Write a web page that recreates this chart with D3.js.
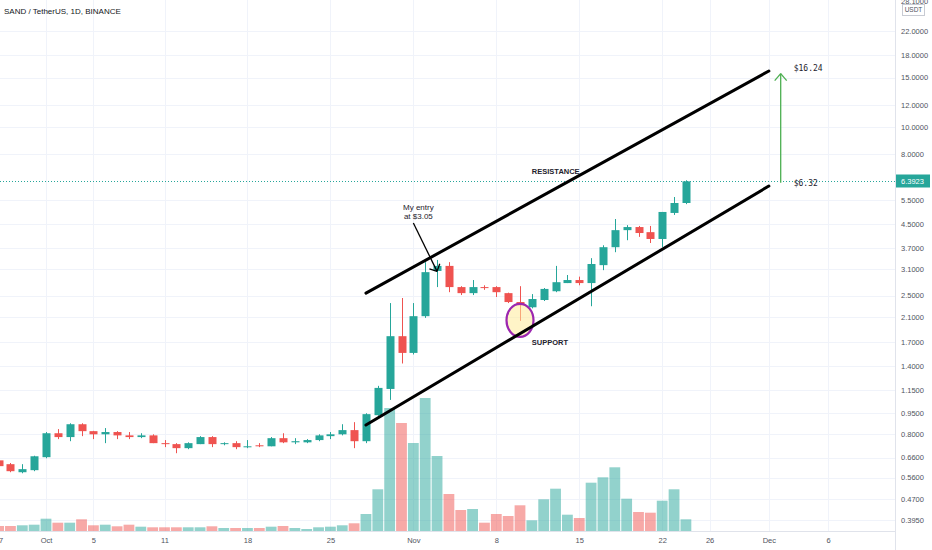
<!DOCTYPE html>
<html>
<head>
<meta charset="utf-8">
<script src="https://cdn.jsdelivr.net/npm/d3@7"></script>
<style>
html, body { margin: 0; padding: 0; background: #ffffff; overflow: hidden; }
</style>
</head>
<body>
<div id="canvas"></div>
<script>
"use strict"

let drawingWidth = 932; // size of the screenshot
let drawingHeight = 550;
let plotRight = 895;    // price scale starts here
let axisY = 531;        // time scale line / volume baseline

/* Daily candles, SAND / USDT, 27 Sep .. 24 Nov 2021 */
let firstDay = "2021-09-27";
let lastDay = "2021-11-24";

let opens = [0.645, 0.625, 0.585, 0.595,
    0.662, 0.806, 0.781, 0.868, 0.820, 0.799, 0.814, 0.792, 0.781, 0.792, 0.743, 0.737, 0.713, 0.737, 0.781, 0.737,
    0.743, 0.719, 0.730, 0.724, 0.774, 0.748, 0.748, 0.762, 0.787, 0.799, 0.827, 0.755, 0.935, 1.16, 1.79,
    1.56, 2.11, 3.06, 3.19, 2.68, 2.55, 2.68, 2.68, 2.55, 2.37, 2.27, 2.41, 2.59, 2.77, 2.84, 2.77, 3.21, 3.72,
    4.28, 4.39, 4.21, 3.98, 4.93, 5.35];

let highs = [0.660, 0.631, 0.625, 0.670,
    0.814, 0.834, 0.875, 0.875, 0.822, 0.841, 0.820, 0.814, 0.806, 0.799, 0.762, 0.743, 0.748, 0.787, 0.787, 0.748,
    0.755, 0.762, 0.743, 0.781, 0.806, 0.774, 0.768, 0.799, 0.814, 0.868, 0.883, 0.950, 1.19, 2.35, 2.45,
    2.35, 3.29, 3.35, 3.29, 2.70, 2.84, 2.72, 2.70, 2.56, 2.70, 2.53, 2.66, 3.19, 2.96, 2.92, 3.40, 3.78, 4.69,
    4.46, 4.43, 4.43, 4.97, 5.62, 6.45];

let lows = [0.600, 0.585, 0.580, 0.590,
    0.656, 0.768, 0.755, 0.787, 0.768, 0.743, 0.768, 0.768, 0.774, 0.743, 0.719, 0.684, 0.707, 0.737, 0.719, 0.730,
    0.707, 0.713, 0.719, 0.724, 0.743, 0.737, 0.743, 0.755, 0.768, 0.792, 0.713, 0.743, 0.930, 1.06, 1.43,
    1.54, 2.08, 2.68, 2.57, 2.51, 2.51, 2.62, 2.47, 2.35, 2.03, 2.25, 2.39, 2.57, 2.77, 2.72, 2.29, 3.08, 3.57,
    3.94, 4.05, 3.85, 3.72, 4.85, 5.30];

let closes = [0.615, 0.590, 0.600, 0.667,
    0.806, 0.781, 0.868, 0.820, 0.799, 0.814, 0.792, 0.781, 0.792, 0.743, 0.737, 0.713, 0.743, 0.781, 0.737, 0.743,
    0.719, 0.724, 0.724, 0.774, 0.748, 0.755, 0.762, 0.792, 0.799, 0.827, 0.755, 0.943, 1.17, 1.79, 1.56,
    2.11, 3.03, 3.19, 2.68, 2.55, 2.68, 2.66, 2.57, 2.37, 2.31, 2.43, 2.64, 2.79, 2.84, 2.77, 3.24, 3.72, 4.28,
    4.39, 4.18, 3.98, 4.97, 5.35, 6.3923];

// volume in millions of SAND
let volumes = [5.0, 5.0, 5.7, 6.3,
    12.3, 8.3, 8.3, 11.7, 5.7, 6.3, 4.7, 6.3, 4.3, 3.7, 3.7, 3.7, 3.7, 3.7, 4.7, 3.0,
    3.0, 3.0, 3.0, 4.3, 5.0, 3.0, 2.0, 3.7, 4.3, 5.7, 7.7, 17.0, 41.7, 123.0, 108.0,
    88.0, 133.0, 75.0, 37.0, 21.0, 22.0, 8.3, 17.0, 15.0, 25.7, 10.7, 31.7, 42.3, 16.3, 13.0, 48.3, 53.7, 63.7,
    32.3, 19.0, 18.3, 30.3, 41.7, 11.7];

let priceTicks = [28.1, 22, 18, 15, 12, 10, 8, 5.5, 4.5, 3.7, 3.1, 2.5, 2.1, 1.7, 1.4, 1.15, 0.95, 0.8, 0.66, 0.56, 0.47, 0.395];
let timeTicks = ["2021-09-27", "2021-10-01", "2021-10-05", "2021-10-11", "2021-10-18", "2021-10-25", "2021-11-01",
    "2021-11-08", "2021-11-15", "2021-11-22", "2021-11-26", "2021-12-01", "2021-12-06"];
let timeTickLabels = ["27", "Oct", "5", "11", "18", "25", "Nov", "8", "15", "22", "26", "Dec", "6"];

let lastPrice = 6.3923;

/* Drawn annotations (date, price) */
let resistanceLine = [{ date: "2021-10-28", price: 2.55 }, { date: "2021-12-01", price: 15.83 }];
let supportLine = [{ date: "2021-10-28", price: 0.862 }, { date: "2021-12-01", price: 6.15 }];
let entryArrow = [{ date: "2021-11-01", price: 4.54 }, { date: "2021-11-03", price: 3.05 }];
let entryText = ["My entry", "at $3.05"];
let supportCircle = { date: "2021-11-10", price: 2.04 };
let targetArrow = { date: "2021-12-02", from: 6.32, to: 15.5 };
let targetLabels = [{ text: "$16.24", price: 16.24 }, { text: "$6.32", price: 6.32 }];
let channelLabels = [{ text: "RESISTANCE", date: "2021-11-11", price: 6.96 }, { text: "SUPPORT", date: "2021-11-11", price: 1.70 }];

let upColor = "#26a69a";
let downColor = "#ef5350";
let gridColor = "#f0f3fa";
let textColor = "#131722";
let fontFamily = "'Liberation Sans', Arial, sans-serif";

let parseDay = d3.utcParse("%Y-%m-%d");

let days = d3.utcDay.range(parseDay(firstDay), d3.utcDay.offset(parseDay(lastDay), 1));
let candles = days.map((d, i) => ({
    date: d, open: opens[i], high: highs[i], low: lows[i], close: closes[i], volume: volumes[i]
}));

/* Scales */
let xScale = d3.scaleUtc()
    .domain([parseDay("2021-10-01"), parseDay("2021-12-01")])
    .range([46, 768.85]);

let yScale = d3.scaleLog()
    .domain([0.395, 22])
    .range([520, 31]);

let volumeScale = d3.scaleLinear()
    .domain([0, 200])
    .range([axisY, axisY - 200]);

let drawing = d3.select("#canvas")
    .append("svg")
    .attr("width", drawingWidth)
    .attr("height", drawingHeight)
    .style("font-family", fontFamily);

drawing.append("rect")
    .attr("width", drawingWidth)
    .attr("height", drawingHeight)
    .attr("fill", "#ffffff");

/* Grid */
let grid = drawing.append("g");

grid.selectAll(".hgrid")
    .data(priceTicks.slice(1))
    .join("line")
    .attr("x1", 0)
    .attr("x2", plotRight)
    .attr("y1", d => Math.round(yScale(d)) + 0.5)
    .attr("y2", d => Math.round(yScale(d)) + 0.5)
    .attr("stroke", gridColor);

grid.selectAll(".vgrid")
    .data(timeTicks)
    .join("line")
    .attr("x1", d => Math.round(xScale(parseDay(d))) + 0.5)
    .attr("x2", d => Math.round(xScale(parseDay(d))) + 0.5)
    .attr("y1", 0)
    .attr("y2", axisY)
    .attr("stroke", gridColor);

let plot = drawing.append("g");

/* Volume bars */
plot.selectAll(".vol")
    .data(candles)
    .join("rect")
    .attr("x", d => xScale(d.date) - 5.4)
    .attr("width", 10.8)
    .attr("y", d => volumeScale(d.volume))
    .attr("height", d => axisY - volumeScale(d.volume))
    .attr("fill", d => d.close >= d.open ? upColor : downColor)
    .attr("fill-opacity", 0.5);

/* Last price line */
plot.append("line")
    .attr("x1", 0)
    .attr("x2", plotRight)
    .attr("y1", Math.round(yScale(lastPrice)) + 0.5)
    .attr("y2", Math.round(yScale(lastPrice)) + 0.5)
    .attr("stroke", upColor)
    .attr("stroke-width", 1)
    .attr("stroke-dasharray", "1,2");

/* Candles: wick then body */
plot.selectAll(".wick")
    .data(candles)
    .join("line")
    .attr("x1", d => Math.round(xScale(d.date)) + 0.5)
    .attr("x2", d => Math.round(xScale(d.date)) + 0.5)
    .attr("y1", d => yScale(d.high))
    .attr("y2", d => yScale(d.low))
    .attr("stroke", d => d.close >= d.open ? upColor : downColor)
    .attr("stroke-width", 1);

plot.selectAll(".body")
    .data(candles)
    .join("rect")
    .attr("x", d => Math.round(xScale(d.date)) - 3.5)
    .attr("width", 8)
    .attr("y", d => yScale(Math.max(d.open, d.close)))
    .attr("height", d => Math.max(1, Math.abs(yScale(d.open) - yScale(d.close))))
    .attr("fill", d => d.close >= d.open ? upColor : downColor);

/* Support circle */
plot.append("ellipse")
    .attr("cx", xScale(parseDay(supportCircle.date)))
    .attr("cy", yScale(supportCircle.price))
    .attr("rx", 13.5)
    .attr("ry", 16.5)
    .attr("fill", "#ffeb99")
    .attr("fill-opacity", 0.55)
    .attr("stroke", "#9c27b0")
    .attr("stroke-width", 2.2);

/* Channel lines */
let channel = d3.line()
    .x(d => xScale(parseDay(d.date)))
    .y(d => yScale(d.price));

plot.selectAll(".channel")
    .data([resistanceLine, supportLine])
    .join("path")
    .attr("d", channel)
    .attr("fill", "none")
    .attr("stroke", "#000000")
    .attr("stroke-width", 3)
    .attr("stroke-linecap", "round");

plot.selectAll(".chlabel")
    .data(channelLabels)
    .join("text")
    .attr("x", d => xScale(parseDay(d.date)))
    .attr("y", d => yScale(d.price))
    .attr("dy", "0.35em")
    .attr("font-size", 7.5)
    .attr("font-weight", "bold")
    .attr("fill", "#1e222d")
    .text(d => d.text);

/* Entry arrow */
let entryStart = [xScale(parseDay(entryArrow[0].date)), yScale(entryArrow[0].price)];
let entryEnd = [xScale(parseDay(entryArrow[1].date)), yScale(entryArrow[1].price)];
let entryAngle = Math.atan2(entryStart[1] - entryEnd[1], entryStart[0] - entryEnd[0]);

plot.append("line")
    .attr("x1", entryStart[0])
    .attr("y1", entryStart[1])
    .attr("x2", entryEnd[0])
    .attr("y2", entryEnd[1])
    .attr("stroke", "#000000")
    .attr("stroke-width", 1.3);

plot.selectAll(".entryhead")
    .data([-0.8, 0.8])
    .join("line")
    .attr("x1", entryEnd[0])
    .attr("y1", entryEnd[1])
    .attr("x2", d => entryEnd[0] + 8 * Math.cos(entryAngle + d))
    .attr("y2", d => entryEnd[1] + 8 * Math.sin(entryAngle + d))
    .attr("stroke", "#000000")
    .attr("stroke-width", 1.3);

plot.selectAll(".entrytext")
    .data(entryText)
    .join("text")
    .attr("x", entryStart[0] + 5)
    .attr("y", (d, i) => entryStart[1] - 13 + i * 9)
    .attr("text-anchor", "middle")
    .attr("font-size", 8)
    .attr("fill", "#1e222d")
    .text(d => d);

/* Target arrow */
let targetX = xScale(parseDay(targetArrow.date));
plot.append("line")
    .attr("x1", targetX)
    .attr("x2", targetX)
    .attr("y1", yScale(targetArrow.from))
    .attr("y2", yScale(targetArrow.to))
    .attr("stroke", "#4caf50")
    .attr("stroke-width", 1.3);

plot.selectAll(".targethead")
    .data([-1, 1])
    .join("line")
    .attr("x1", targetX)
    .attr("y1", yScale(targetArrow.to))
    .attr("x2", d => targetX + d * 6)
    .attr("y2", yScale(targetArrow.to) + 7)
    .attr("stroke", "#4caf50")
    .attr("stroke-width", 1.3);

plot.selectAll(".targetlabel")
    .data(targetLabels)
    .join("text")
    .attr("x", targetX + 13)
    .attr("y", d => yScale(d.price))
    .attr("dy", "0.35em")
    .attr("font-size", 8)
    .attr("font-family", "'DejaVu Sans Mono', monospace")
    .attr("fill", "#1e222d")
    .text(d => d.text);

/* Price scale */
drawing.append("rect")
    .attr("x", plotRight)
    .attr("y", 0)
    .attr("width", drawingWidth - plotRight)
    .attr("height", drawingHeight)
    .attr("fill", "#ffffff");

let priceAxis = drawing.append("g")
    .attr("transform", `translate(${plotRight},0)`)
    .call(d3.axisRight(yScale)
        .tickValues(priceTicks)
        .tickFormat(d3.format(".4f"))
        .tickSize(0)
        .tickPadding(6));

priceAxis.select(".domain").remove();
priceAxis.selectAll("text")
    .attr("font-size", 7.5)
    .attr("font-family", fontFamily)
    .attr("fill", "#50535e");

drawing.append("line")
    .attr("x1", plotRight + 0.5)
    .attr("x2", plotRight + 0.5)
    .attr("y1", 0)
    .attr("y2", drawingHeight)
    .attr("stroke", "#e0e3eb");

/* Time scale */
drawing.append("rect")
    .attr("x", 0)
    .attr("y", axisY + 1)
    .attr("width", plotRight)
    .attr("height", drawingHeight - axisY)
    .attr("fill", "#ffffff");

let timeAxis = drawing.append("g")
    .attr("transform", `translate(0,${axisY})`)
    .call(d3.axisBottom(xScale)
        .tickValues(timeTicks.map(parseDay))
        .tickFormat((d, i) => timeTickLabels[i])
        .tickSize(0)
        .tickPadding(7));

timeAxis.select(".domain").remove();
timeAxis.selectAll("text")
    .attr("font-size", 7.5)
    .attr("font-family", fontFamily)
    .attr("fill", "#50535e");

drawing.append("line")
    .attr("x1", 0)
    .attr("x2", plotRight)
    .attr("y1", axisY + 0.5)
    .attr("y2", axisY + 0.5)
    .attr("stroke", "#e0e3eb");

/* Last price tag */
let lastY = Math.round(yScale(lastPrice));
drawing.append("rect")
    .attr("x", plotRight + 1)
    .attr("y", lastY - 6.5)
    .attr("width", 34)
    .attr("height", 13)
    .attr("fill", upColor);

drawing.append("text")
    .attr("x", plotRight + 6)
    .attr("y", lastY)
    .attr("dy", "0.35em")
    .attr("font-size", 7.5)
    .attr("fill", "#ffffff")
    .text(d3.format(".4f")(lastPrice));

/* Currency box */
drawing.append("rect")
    .attr("x", 902.5)
    .attr("y", 4.5)
    .attr("width", 22)
    .attr("height", 11)
    .attr("fill", "#ffffff")
    .attr("stroke", "#c8cbd3");

drawing.append("text")
    .attr("x", 913.5)
    .attr("y", 10)
    .attr("dy", "0.35em")
    .attr("text-anchor", "middle")
    .attr("font-size", 6.5)
    .attr("fill", "#50535e")
    .text("USDT");

/* Title */
drawing.append("text")
    .attr("x", 4)
    .attr("y", 11)
    .attr("dy", "0.35em")
    .attr("font-size", 8)
    .attr("fill", textColor)
    .text("SAND / TetherUS, 1D, BINANCE");
</script>
</body>
</html>
